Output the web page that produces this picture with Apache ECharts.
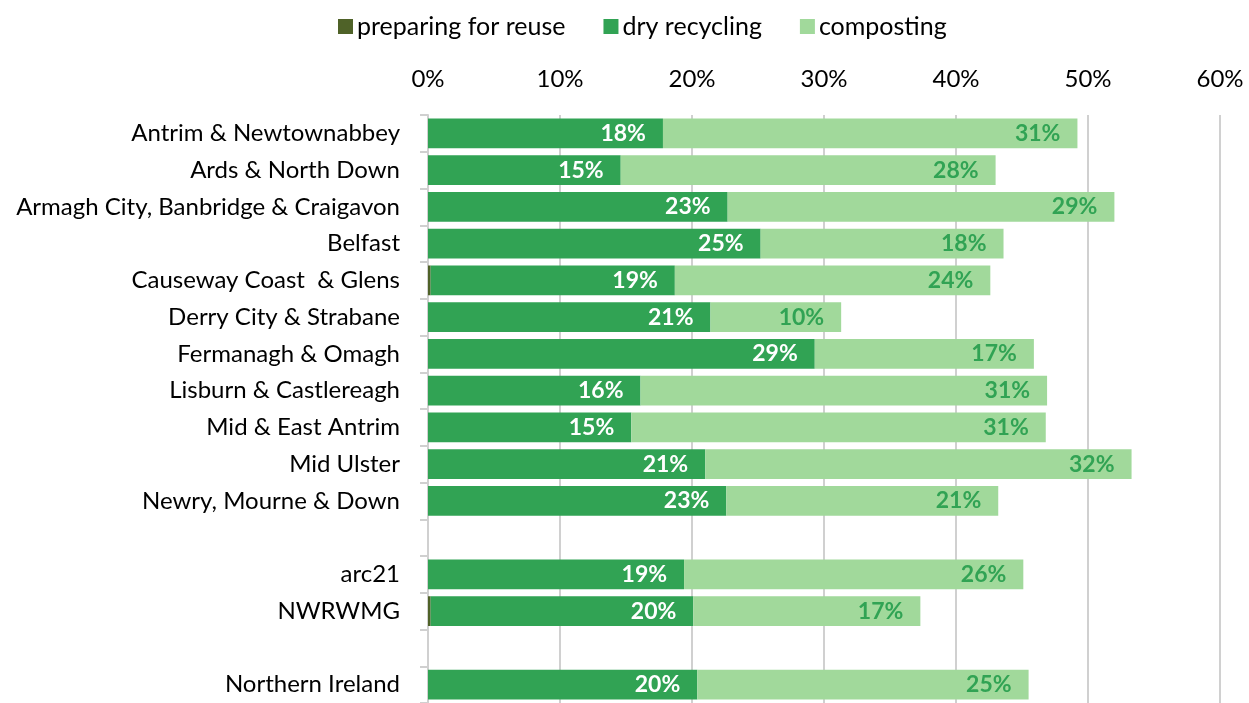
<!DOCTYPE html>
<html>
<head>
<meta charset="utf-8">
<script src="https://cdn.jsdelivr.net/npm/echarts@6/dist/echarts.min.js"></script>
<style>html,body{margin:0;padding:0;background:#fff}#c{width:1249px;height:703px}</style>
</head>
<body>
<div id="c"></div>
<script>
const categories = ['Antrim & Newtownabbey','Ards & North Down','Armagh City, Banbridge & Craigavon','Belfast','Causeway Coast  & Glens','Derry City & Strabane','Fermanagh & Omagh','Lisburn & Castlereagh','Mid & East Antrim','Mid Ulster','Newry, Mourne & Down','','arc21','NWRWMG','','Northern Ireland'];
const reuse      = [0, 0, 0, 0, 0.2, 0, 0, 0, 0, 0, 0, null, 0, 0.2, null, 0];
const dryRecycling = [17.8, 14.6, 22.7, 25.2, 18.5, 21.4, 29.3, 16.1, 15.4, 21.0, 22.6, null, 19.4, 19.9, null, 20.4];
const composting = [31.4, 28.4, 29.3, 18.4, 23.9, 9.9, 16.6, 30.8, 31.4, 32.3, 20.6, null, 25.7, 17.2, null, 25.1];
const xTicks = {min: 0, max: 60, interval: 10};

const FONT = 'Lato';
const chart = echarts.init(document.getElementById('c'));
const lbl = (color) => ({
  show: true, position: 'insideRight', distance: 17,
  color: color, fontFamily: FONT, fontWeight: 'bold', fontSize: 23,
  formatter: p => (p.value == null ? '' : Math.round(p.value) + '%')
});
chart.setOption({
  animation: false,
  textStyle: {fontFamily: FONT},
  legend: {
    top: 9, left: 333, itemWidth: 15, itemHeight: 15, itemGap: 38,
    icon: 'rect',
    textStyle: {fontSize: 25, color: '#000', fontFamily: FONT, padding: [0,0,0,-1]},
    data: ['preparing for reuse', 'dry recycling', 'composting']
  },
  grid: {left: 428, top: 115, width: 792, height: 594, containLabel: false},
  xAxis: {
    type: 'value', position: 'top', min: xTicks.min, max: xTicks.max, interval: xTicks.interval,
    axisLine: {show: false}, axisTick: {show: false},
    axisLabel: {formatter: '{value}%', fontSize: 24, color: '#000', margin: 24, fontFamily: FONT},
    splitLine: {lineStyle: {color: '#d0d0d0', width: 2}}
  },
  yAxis: {
    type: 'category', inverse: true, data: categories,
    axisLine: {lineStyle: {color: '#d0d0d0', width: 2}},
    axisTick: {show: true, length: 8, lineStyle: {color: '#d0d0d0', width: 2}},
    axisLabel: {fontSize: 24, color: '#000', margin: 28, fontFamily: FONT}
  },
  series: [
    {name: 'preparing for reuse', type: 'bar', stack: 't', data: reuse, barCategoryGap: '19%',
     itemStyle: {color: '#4f6228'}},
    {name: 'dry recycling', type: 'bar', stack: 't', data: dryRecycling,
     itemStyle: {color: '#31a354'}, label: lbl('#ffffff')},
    {name: 'composting', type: 'bar', stack: 't', data: composting,
     itemStyle: {color: '#a1d99b'}, label: lbl('#31a354')}
  ]
});
</script>
</body>
</html>
